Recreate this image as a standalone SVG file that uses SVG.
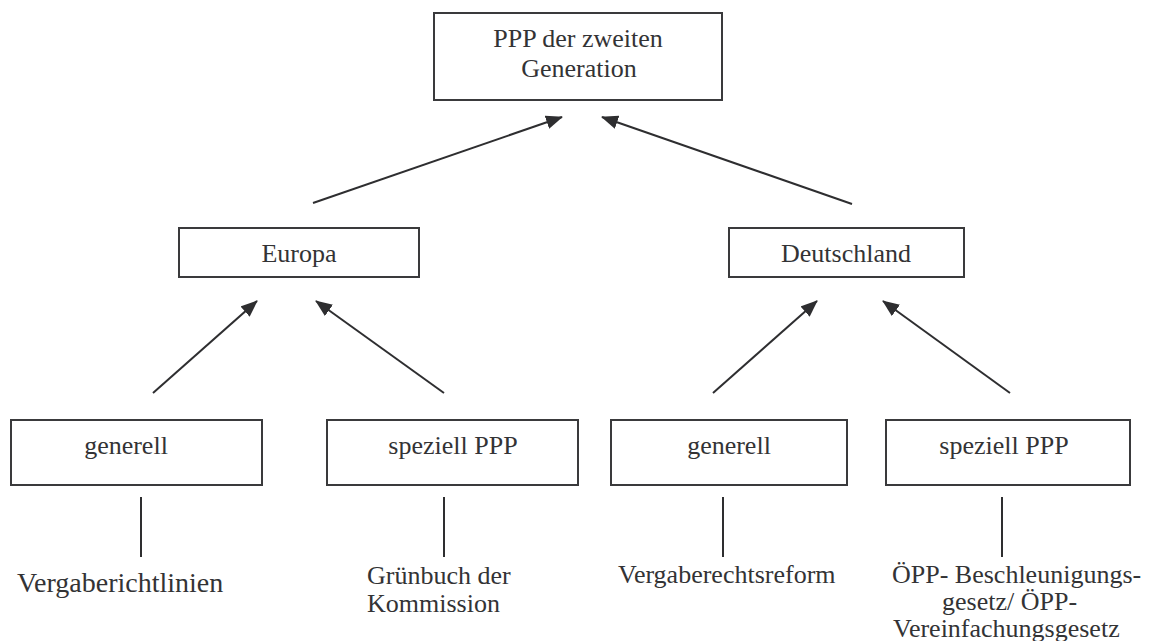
<svg xmlns="http://www.w3.org/2000/svg" width="1162" height="641" viewBox="0 0 1162 641">
  <style>
    .box { fill: #ffffff; stroke: #3a3a3c; stroke-width: 2; }
    .lbl { font-family: "Liberation Serif", "Times New Roman", serif; font-size: 26px; fill: #333335; }
    .mid { text-anchor: middle; }
    .edge { stroke: #2e2e30; stroke-width: 2; fill: none; }
    .arrow { marker-end: url(#head); }
  </style>
  <defs>
    <marker id="head" markerUnits="userSpaceOnUse" markerWidth="18" markerHeight="14" refX="16" refY="7" orient="auto">
      <path d="M0,0 L17,7 L0,14 z" fill="#2e2e30"/>
    </marker>
  </defs>
  <rect width="1162" height="641" fill="#ffffff"/>

  <!-- top level -->
  <g id="node-ppp">
    <rect class="box" x="434" y="13" width="288" height="87"/>
    <text class="lbl mid" x="578" y="47">PPP der zweiten</text>
    <text class="lbl mid" x="579" y="77">Generation</text>
  </g>

  <!-- second level -->
  <g id="node-europa">
    <rect class="box" x="179" y="228" width="240" height="49"/>
    <text class="lbl mid" x="299" y="262">Europa</text>
  </g>
  <g id="node-deutschland">
    <rect class="box" x="729" y="228" width="235" height="49"/>
    <text class="lbl mid" x="846" y="262">Deutschland</text>
  </g>

  <!-- third level -->
  <g id="node-eu-generell">
    <rect class="box" x="11" y="420" width="251" height="65"/>
    <text class="lbl mid" x="126" y="454">generell</text>
  </g>
  <g id="node-eu-speziell">
    <rect class="box" x="327" y="420" width="251" height="65"/>
    <text class="lbl mid" x="453" y="454">speziell PPP</text>
  </g>
  <g id="node-de-generell">
    <rect class="box" x="611" y="420" width="236" height="65"/>
    <text class="lbl mid" x="729" y="454">generell</text>
  </g>
  <g id="node-de-speziell">
    <rect class="box" x="886" y="420" width="244" height="65"/>
    <text class="lbl mid" x="1004" y="454">speziell PPP</text>
  </g>

  <!-- leaf labels -->
  <g id="node-vergaberichtlinien">
    <text class="lbl" x="17" y="592" style="font-size:28px">Vergaberichtlinien</text>
  </g>
  <g id="node-gruenbuch">
    <text class="lbl" x="367" y="584">Grünbuch der</text>
    <text class="lbl" x="367" y="612">Kommission</text>
  </g>
  <g id="node-vergaberechtsreform">
    <text class="lbl" x="618" y="583">Vergaberechtsreform</text>
  </g>
  <g id="node-oepp">
    <text class="lbl" x="892" y="583">ÖPP- Beschleunigungs-</text>
    <text class="lbl" x="942" y="610">gesetz/ ÖPP-</text>
    <text class="lbl" x="893" y="637">Vereinfachungsgesetz</text>
  </g>

  <!-- connectors -->
  <g id="connectors">
    <line class="edge arrow" x1="313" y1="203" x2="562" y2="117"/>
    <line class="edge arrow" x1="852" y1="204" x2="602" y2="117"/>
    <line class="edge arrow" x1="153" y1="393" x2="257" y2="301"/>
    <line class="edge arrow" x1="444" y1="393" x2="316" y2="301"/>
    <line class="edge arrow" x1="713" y1="393" x2="817" y2="301"/>
    <line class="edge arrow" x1="1010" y1="393" x2="883" y2="301"/>
    <line class="edge" x1="141" y1="497" x2="141" y2="557"/>
    <line class="edge" x1="444" y1="497" x2="444" y2="557"/>
    <line class="edge" x1="723" y1="497" x2="723" y2="557"/>
    <line class="edge" x1="1002" y1="497" x2="1002" y2="557"/>
  </g>
</svg>
